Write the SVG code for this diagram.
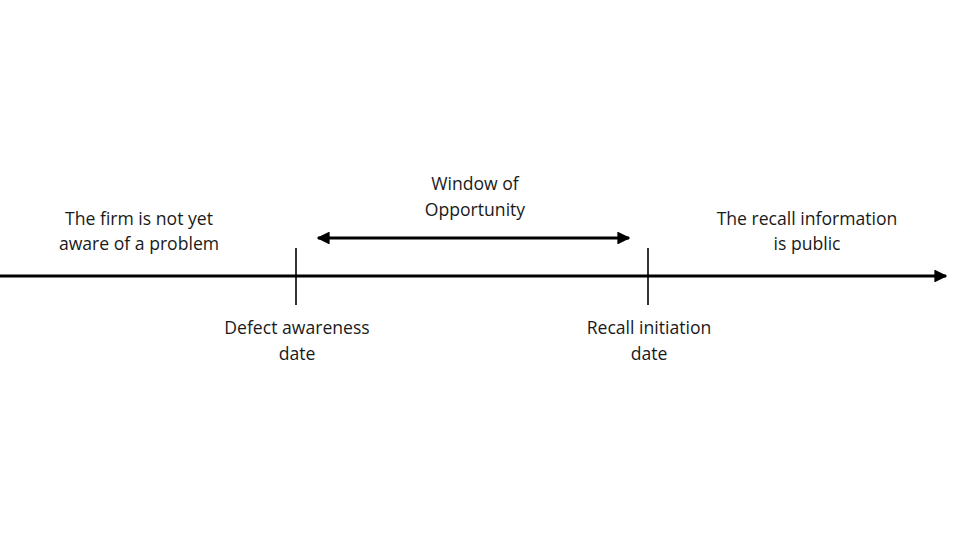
<svg xmlns="http://www.w3.org/2000/svg" width="960" height="540" viewBox="0 0 960 540">
<defs>
<marker id="ah" viewBox="0 0 10 10" refX="9" refY="5" markerWidth="4.3" markerHeight="4.3" orient="auto-start-reverse" markerUnits="strokeWidth"><path d="M0,0 L10,5 L0,10 z" fill="#000"/></marker>
<style>
.t{font-family:"Open Sans","Liberation Sans",sans-serif;font-size:17.6px;fill:#1a1a1a;text-anchor:middle}
.l{stroke:#000;fill:none}
</style>
</defs>
<rect width="960" height="540" fill="#fff"/>
<g id="connectors">
<line class="l" x1="0" y1="276" x2="946" y2="276" stroke-width="3" marker-end="url(#ah)"/>
<line class="l" x1="318" y1="238" x2="629" y2="238" stroke-width="3" marker-start="url(#ah)" marker-end="url(#ah)"/>
<line class="l" x1="296" y1="248" x2="296" y2="305" stroke-width="1.6"/>
<line class="l" x1="648" y1="248" x2="648" y2="305" stroke-width="1.6"/>
</g>
<g id="before"><text class="t" x="139" y="225">The firm is not yet</text><text class="t" x="139" y="250">aware of a problem</text></g>
<g id="window"><text class="t" x="475" y="190">Window of</text><text class="t" x="475" y="216">Opportunity</text></g>
<g id="after"><text class="t" x="807" y="225">The recall information</text><text class="t" x="807" y="250">is public</text></g>
<g id="defect"><text class="t" x="297" y="334">Defect awareness</text><text class="t" x="297" y="360">date</text></g>
<g id="recall"><text class="t" x="649" y="334">Recall initiation</text><text class="t" x="649" y="360">date</text></g>
</svg>
